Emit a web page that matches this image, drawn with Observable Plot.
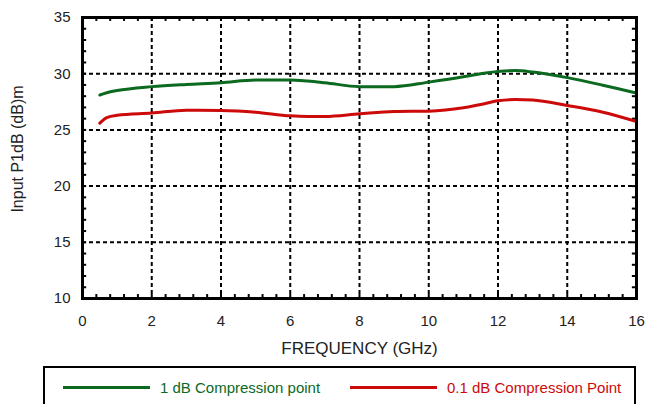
<!DOCTYPE html>
<html>
<head>
<meta charset="utf-8">
<script src="https://cdn.jsdelivr.net/npm/d3@7"></script>
<script src="https://cdn.jsdelivr.net/npm/@observablehq/plot@0.6"></script>
<style>
  body { margin: 0; background: #fff; font-family: "Liberation Sans", Arial, sans-serif; }
  #chart svg { display: block; }
  #legend { position: relative; margin-left: 43px; margin-top: 6px; width: 589px; height: 50px; border: 2px solid #000; box-sizing: content-box; }
  .item { position: absolute; top: 11px; font-size: 15px; display: flex; align-items: center; }
  .swatch { display: inline-block; width: 87px; height: 3px; margin-right: 10px; }
</style>
</head>
<body>
<div id="chart"></div>
<div id="legend"></div>
<script>
const freq = [0.5, 0.7, 1, 2, 3, 4, 5, 6, 6.5, 7, 8, 9, 10, 11, 11.5, 12, 12.5, 13, 14, 15, 16];
const p1dB = [28.1, 28.3, 28.5, 28.85, 29.05, 29.2, 29.45, 29.45, 29.35, 29.2, 28.85, 28.85, 29.25, 29.72, 30.0, 30.2, 30.28, 30.15, 29.65, 29.0, 28.28];
const p01dB = [25.6, 26.1, 26.3, 26.5, 26.75, 26.73, 26.58, 26.25, 26.2, 26.2, 26.43, 26.63, 26.67, 26.97, 27.26, 27.6, 27.7, 27.65, 27.17, 26.6, 25.75];
const seriesNames = ["1 dB Compression point", "0.1 dB Compression Point"];
const seriesColors = ["#0b6a1f", "#cc0a0a"];
const xTicks = [0, 2, 4, 6, 8, 10, 12, 14, 16];
const yTicks = [10, 15, 20, 25, 30, 35];
const xMinor = d3.range(0, 16.001, 0.4);
const yMinor = d3.range(10, 35.001, 1);
const xLabel = "FREQUENCY (GHz)";
const yLabel = "Input P1dB (dB)m";

const rows = [];
freq.forEach((f, i) => {
  rows.push({f, v: p1dB[i], s: seriesNames[0]});
  rows.push({f, v: p01dB[i], s: seriesNames[1]});
});

const dash = "4,3";
const chart = Plot.plot({
  width: 652,
  height: 360,
  marginLeft: 82,
  marginRight: 16,
  marginTop: 17,
  marginBottom: 62,
  style: {fontFamily: "Liberation Sans, Arial, sans-serif", fontSize: "15px", color: "#222"},
  x: {domain: [0, 16]},
  y: {domain: [10, 35]},
  color: {domain: seriesNames, range: seriesColors},
  marks: [
    Plot.ruleX(xTicks.slice(1, -1), {stroke: "#000", strokeWidth: 2, strokeDasharray: dash}),
    Plot.ruleY(yTicks.slice(1, -1), {stroke: "#000", strokeWidth: 2, strokeDasharray: dash}),
    Plot.ruleX(xMinor, {x: d => d, y1: 10, y2: 10.35, stroke: "#000", strokeWidth: 2}),
    Plot.ruleX(xMinor, {x: d => d, y1: 34.65, y2: 35, stroke: "#000", strokeWidth: 2}),
    Plot.ruleY(yMinor, {y: d => d, x1: 0, x2: 0.12, stroke: "#000", strokeWidth: 2}),
    Plot.ruleY(yMinor, {y: d => d, x1: 15.88, x2: 16, stroke: "#000", strokeWidth: 2}),
    Plot.line(rows, {x: "f", y: "v", z: "s", stroke: "s", strokeWidth: 3, curve: "monotone-x"}),
    Plot.frame({stroke: "#000", strokeWidth: 3}),
    Plot.axisX({ticks: xTicks, tickSize: 0, tickPadding: 17, label: null}),
    Plot.axisY({ticks: yTicks, tickSize: 0, tickPadding: 12, label: null}),
    Plot.text([xLabel], {text: d => d, frameAnchor: "bottom", dy: 55, fontSize: 17, fill: "#222"}),
    Plot.text([yLabel], {text: d => d, frameAnchor: "left", textAnchor: "middle", dx: -65, dy: -9, rotate: -90, fontSize: 16, fill: "#222"})
  ]
});
document.getElementById("chart").appendChild(chart);

const legend = document.getElementById("legend");
const lefts = [18, 305];
seriesNames.forEach((name, i) => {
  const it = document.createElement("div");
  it.className = "item";
  it.style.left = lefts[i] + "px";
  it.style.color = seriesColors[i];
  const sw = document.createElement("span");
  sw.className = "swatch";
  sw.style.background = seriesColors[i];
  it.appendChild(sw);
  it.appendChild(document.createTextNode(name));
  legend.appendChild(it);
});
</script>
</body>
</html>
